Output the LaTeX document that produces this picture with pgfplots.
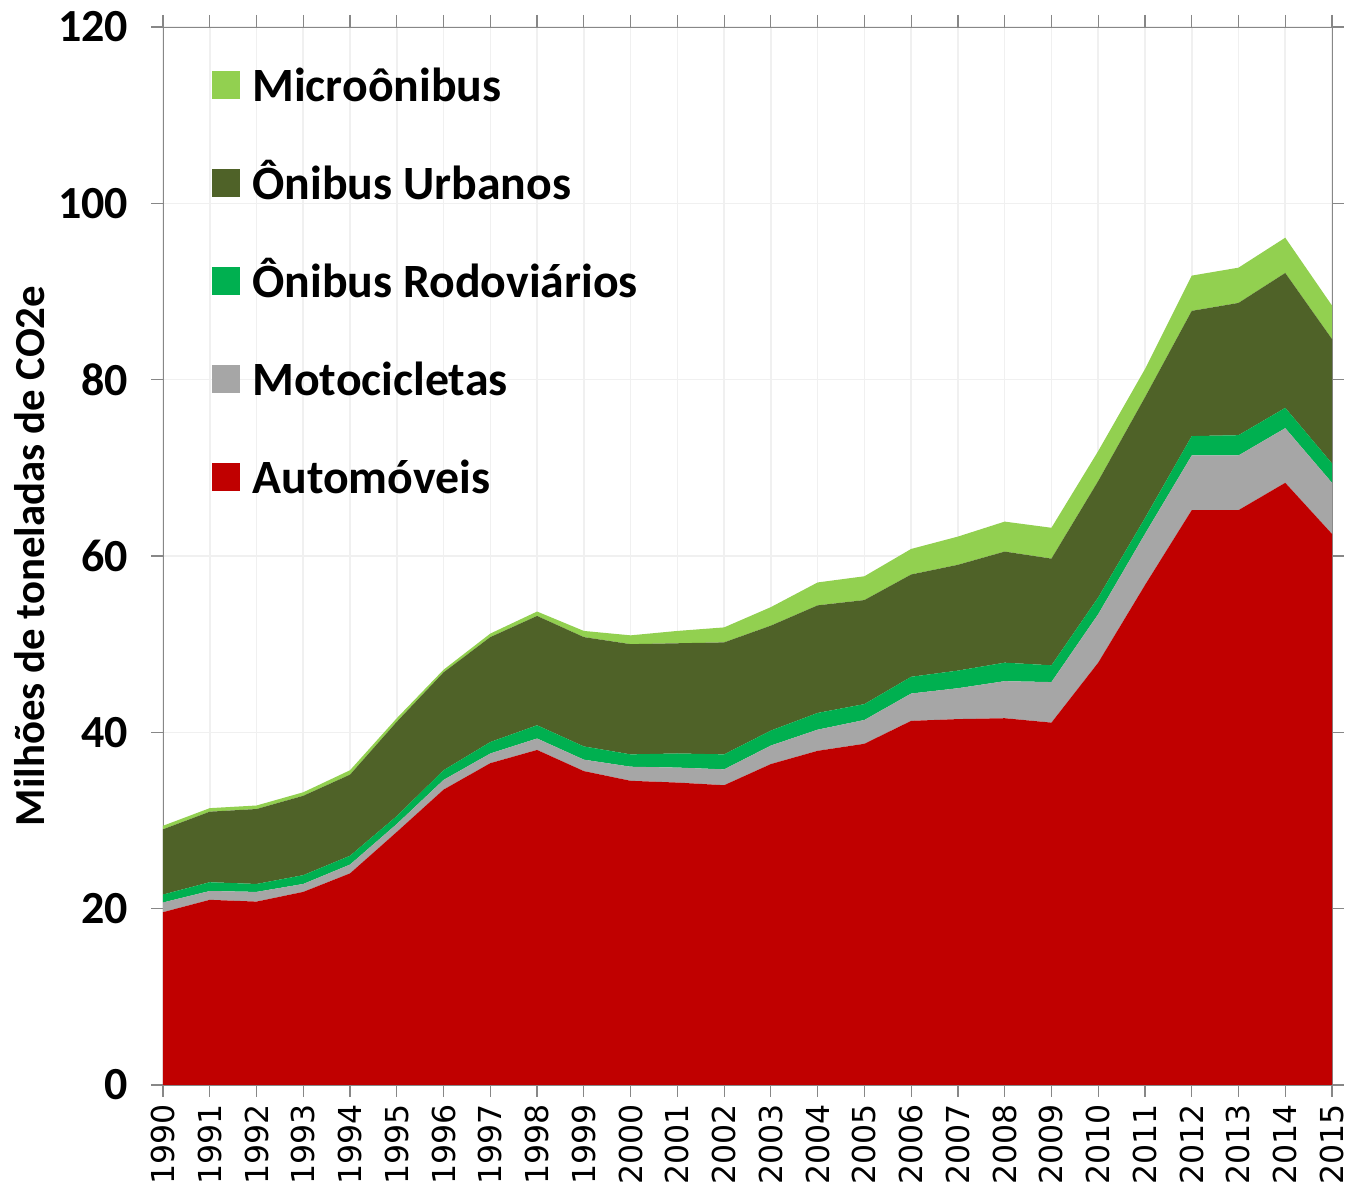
\documentclass[border=0pt]{standalone}
\usepackage{fontspec}
\setmainfont{Carlito}
\newfontfamily\dejavu{DejaVu Sans}
\usepackage{pgfplots}
\pgfplotsset{compat=1.18}
\definecolor{autoc}{HTML}{C00000}
\definecolor{motoc}{HTML}{A6A6A6}
\definecolor{rodoc}{HTML}{00B050}
\definecolor{urbc}{HTML}{4F6228}
\definecolor{microc}{HTML}{92D050}
\pgfplotsset{sq legend/.style={legend image code/.code={\fill[##1] (0pt,-5pt) rectangle (14pt,9pt);}}}
\begin{document}
\begin{tikzpicture}
\begin{axis}[name=ax,
 scale only axis, width=584.5pt, height=529pt,
 xmin=1990, xmax=2015, ymin=0, ymax=120,
 xtick={1990,1991,...,2015}, ytick={0,20,...,120},
 stack plots=y,
 axis line style={draw=black!47},
 tick style={black!47, line width=0.6pt},
 tick align=outside, major tick length=6pt,
 xmajorgrids, ymajorgrids, grid style={black!6, line width=0.8pt},
 xticklabel style={rotate=90, anchor=east, font=\dejavu\fontsize{15.8}{15.8}\selectfont},
 yticklabel style={font=\bfseries\fontsize{23}{23}\selectfont, xshift=-8pt},
 /pgf/number format/assume math mode=true,
 /pgf/number format/1000 sep={},
 ylabel={Milhões de toneladas de CO2e},
 ylabel style={font=\bfseries\fontsize{21.4}{21.4}\selectfont, at={(axis description cs:-0.101,0.5)}, anchor=south, inner sep=0pt},
 legend style={draw=none, fill=none, at={(axis description cs:0,1)}, anchor=north west, xshift=24.5pt, yshift=-20pt, font=\bfseries\fontsize{23.9}{23.9}\selectfont, row sep=27pt, column sep=6pt, nodes={inner sep=0pt, text height=17pt, text depth=5pt}, inner sep=0pt},
 legend cell align=left, reverse legend,
]
\addplot[fill=autoc, draw=none, sq legend] coordinates {
(1990,19.6)(1991,21.0)(1992,20.8)(1993,21.9)(1994,24.0)(1995,28.7)(1996,33.5)(1997,36.5)(1998,38.0)(1999,35.6)
(2000,34.5)(2001,34.3)(2002,34.0)(2003,36.4)(2004,37.9)(2005,38.7)(2006,41.3)(2007,41.5)(2008,41.6)(2009,41.1)
(2010,47.9)(2011,56.7)(2012,65.2)(2013,65.2)(2014,68.3)(2015,62.5)} \closedcycle;
\addlegendentry{Automóveis}
\addplot[fill=motoc, draw=none, sq legend] coordinates {
(1990,1.1)(1991,1.0)(1992,1.1)(1993,0.9)(1994,1.0)(1995,0.9)(1996,1.1)(1997,1.1)(1998,1.3)(1999,1.3)
(2000,1.6)(2001,1.7)(2002,1.8)(2003,2.1)(2004,2.4)(2005,2.7)(2006,3.1)(2007,3.5)(2008,4.2)(2009,4.6)
(2010,5.5)(2011,5.8)(2012,6.2)(2013,6.2)(2014,6.2)(2015,5.8)} \closedcycle;
\addlegendentry{Motocicletas}
\addplot[fill=rodoc, draw=none, sq legend] coordinates {
(1990,0.9)(1991,1.0)(1992,0.9)(1993,1.0)(1994,1.0)(1995,0.9)(1996,1.1)(1997,1.3)(1998,1.5)(1999,1.5)
(2000,1.4)(2001,1.6)(2002,1.7)(2003,1.7)(2004,1.9)(2005,1.8)(2006,1.9)(2007,2.0)(2008,2.1)(2009,1.9)
(2010,1.9)(2011,1.8)(2012,2.2)(2013,2.3)(2014,2.3)(2015,2.2)} \closedcycle;
\addlegendentry{Ônibus Rodoviários}
\addplot[fill=urbc, draw=none, sq legend] coordinates {
(1990,7.4)(1991,8.0)(1992,8.5)(1993,9.0)(1994,9.2)(1995,10.7)(1996,11.1)(1997,11.9)(1998,12.4)(1999,12.4)
(2000,12.5)(2001,12.5)(2002,12.7)(2003,11.9)(2004,12.2)(2005,11.8)(2006,11.6)(2007,12.0)(2008,12.6)(2009,12.1)
(2010,13.2)(2011,13.7)(2012,14.2)(2013,15.0)(2014,15.3)(2015,14.1)} \closedcycle;
\addlegendentry{Ônibus Urbanos}
\addplot[fill=microc, draw=none, sq legend] coordinates {
(1990,0.4)(1991,0.4)(1992,0.4)(1993,0.4)(1994,0.5)(1995,0.4)(1996,0.3)(1997,0.4)(1998,0.5)(1999,0.7)
(2000,1.0)(2001,1.4)(2002,1.7)(2003,2.1)(2004,2.6)(2005,2.7)(2006,2.9)(2007,3.2)(2008,3.4)(2009,3.5)
(2010,3.4)(2011,3.2)(2012,4.0)(2013,4.0)(2014,4.0)(2015,3.8)} \closedcycle;
\addlegendentry{Microônibus}
\end{axis}
\pgfresetboundingbox
\path ([shift={(-81.5pt,-51pt)}]ax.south west) rectangle ([shift={(8.5pt,13.5pt)}]ax.north east);
\end{tikzpicture}
\end{document}
